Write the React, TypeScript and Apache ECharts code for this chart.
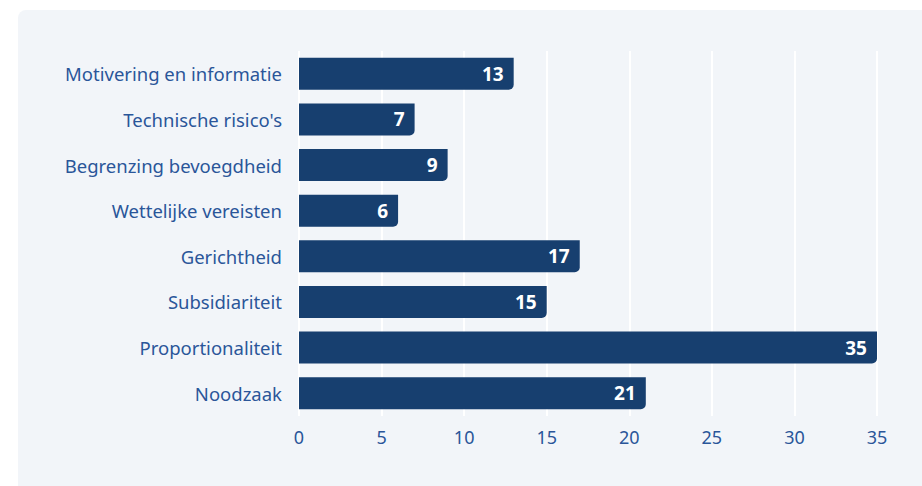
import React, { useEffect, useRef } from "react";
import * as echarts from "echarts";

const categories = [
  "Motivering en informatie",
  "Technische risico's",
  "Begrenzing bevoegdheid",
  "Wettelijke vereisten",
  "Gerichtheid",
  "Subsidiariteit",
  "Proportionaliteit",
  "Noodzaak",
];
const values = [13, 7, 9, 6, 17, 15, 35, 21];
const xTicks = [0, 5, 10, 15, 20, 25, 30, 35];

export default function App() {
  const ref = useRef<HTMLDivElement>(null);
  useEffect(() => {
    if (!ref.current) return;
    const chart = echarts.init(ref.current, null, { renderer: "svg" });
    chart.setOption({
      animation: false,
      textStyle: { fontFamily: "Noto Sans" },
      grid: { left: 299, right: 45, top: 51, bottom: 70, containLabel: false },
      xAxis: {
        type: "value",
        min: xTicks[0],
        max: xTicks[xTicks.length - 1],
        interval: 5,
        axisLine: { show: false },
        axisTick: { show: false },
        splitLine: { show: true, lineStyle: { color: "#ffffff", width: 2 } },
        axisLabel: { color: "#2a5699", fontSize: 18, margin: 12, fontFamily: "Noto Sans" },
      },
      yAxis: {
        type: "category",
        data: categories,
        inverse: true,
        axisLine: { show: false },
        axisTick: { show: false },
        axisLabel: { color: "#2a5699", fontSize: 18.5, margin: 17, fontFamily: "Noto Sans" },
      },
      series: [
        {
          type: "bar",
          data: values,
          barWidth: 32,
          itemStyle: { color: "#173f6f", borderRadius: [0, 0, 5, 0] },
          label: {
            show: true,
            position: "insideRight",
            distance: 10,
            color: "#ffffff",
            fontWeight: "bold",
            fontSize: 19,
            fontFamily: "Noto Sans",
          },
        },
      ],
    });
    return () => chart.dispose();
  }, []);
  return (
    <div style={{ position: "fixed", left: 0, top: 0, width: 922, height: 486, background: "#ffffff", overflow: "hidden" }}>
      <div style={{ position: "absolute", left: 18, top: 10, width: 930, height: 500, borderRadius: 8, background: "#f2f5f9" }} />
      <div ref={ref} style={{ position: "absolute", left: 0, top: 0, width: 922, height: 486 }} />
    </div>
  );
}
